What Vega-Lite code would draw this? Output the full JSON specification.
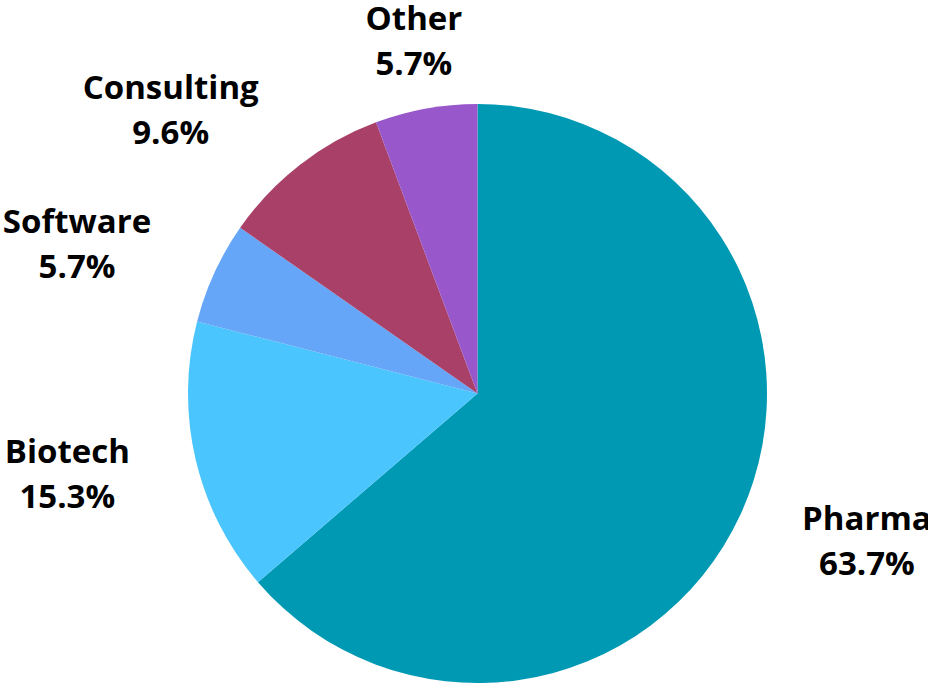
{
  "$schema": "https://vega.github.io/schema/vega-lite/v6.json",
  "width": 901,
  "height": 581,
  "autosize": {"type": "none"},
  "padding": {"left": 27, "top": 103, "right": 0, "bottom": 0},
  "background": "white",
  "config": {"view": {"stroke": null}},
  "data": {
    "values": [
      {"category": "Pharma", "value": 63.7},
      {"category": "Biotech", "value": 15.3},
      {"category": "Software", "value": 5.7},
      {"category": "Consulting", "value": 9.6},
      {"category": "Other", "value": 5.7}
    ]
  },
  "transform": [
    {"window": [{"op": "row_number", "as": "rank"}]},
    {"calculate": "datum.category + '\\n' + format(datum.value, '.1f') + '%'", "as": "label"}
  ],
  "encoding": {
    "theta": {"field": "value", "type": "quantitative", "stack": true, "scale": {"domain": [0, 100]}},
    "order": {"field": "rank", "type": "quantitative"}
  },
  "layer": [
    {
      "mark": {"type": "arc", "outerRadius": 289.5},
      "encoding": {
        "color": {
          "field": "category",
          "type": "nominal",
          "scale": {
            "domain": ["Pharma", "Biotech", "Software", "Consulting", "Other"],
            "range": ["#0099b3", "#4bc5fe", "#65a6f9", "#a84068", "#9957cc"]
          },
          "legend": null
        }
      }
    },
    {
      "mark": {
        "type": "text",
        "radius": 357,
        "font": "Open Sans",
        "fontWeight": "bold",
        "fontSize": 33,
        "lineHeight": 45,
        "lineBreak": "\n",
        "align": "center",
        "baseline": "middle",
        "color": "black",
        "dy": -22,
        "dx": {"expr": "abs(sin(PI * (datum.value_start + datum.value_end) / 100)) < 0.3 ? 0 : (sin(PI * (datum.value_start + datum.value_end) / 100) > 0 ? 1 : -1) * (8.5 * length(datum.category) + 3 + 11 * length(replace(datum.category, regexp('[^m]', 'g'), '')) + 5 * length(replace(datum.category, regexp('[^w]', 'g'), '')))"}
      },
      "encoding": {
        "text": {"field": "label", "type": "nominal"}
      }
    }
  ]
}
